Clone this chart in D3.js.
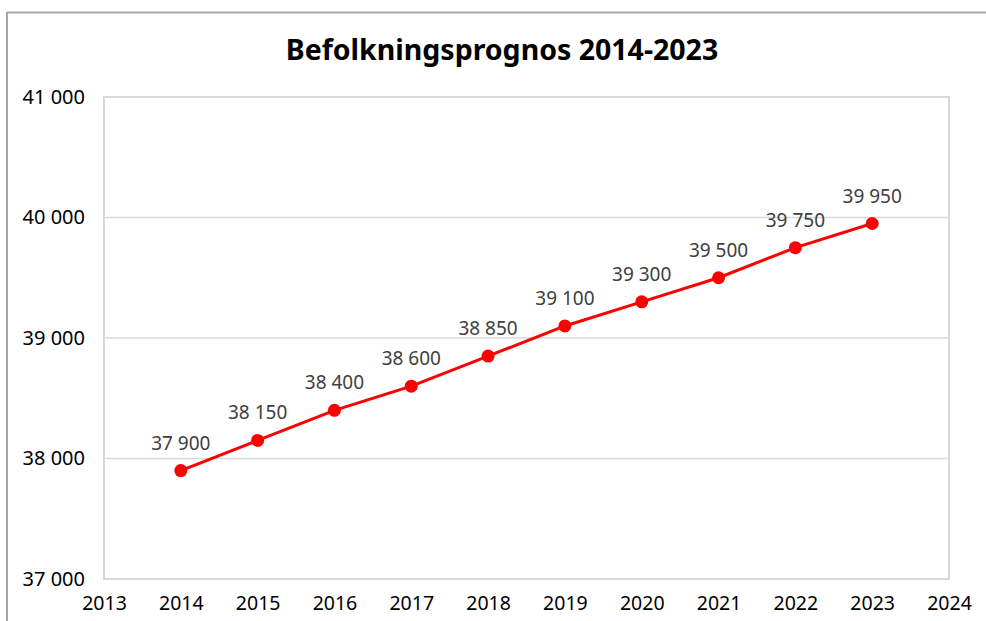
<!DOCTYPE html>
<html>
<head>
<meta charset="utf-8">
<script src="https://cdn.jsdelivr.net/npm/d3@7"></script>
<style>
	body { margin: 0; background: white; }
	svg { font-family: "Noto Sans", "Open Sans", sans-serif; }
</style>
</head>
<body>
<div id="chart"></div>
<script>
const years = [2014, 2015, 2016, 2017, 2018, 2019, 2020, 2021, 2022, 2023];
const population = [37900, 38150, 38400, 38600, 38850, 39100, 39300, 39500, 39750, 39950];
const yTicks = [37000, 38000, 39000, 40000, 41000];
const xTicks = [2013, 2014, 2015, 2016, 2017, 2018, 2019, 2020, 2021, 2022, 2023, 2024];
const title = "Befolkningsprognos 2014-2023";

const width = 986, height = 621;
const margin = { top: 97, right: 37, bottom: 42, left: 104 };

const fmt = v => d3.format(",")(v).replace(/,/g, " ");

let svg = d3.select("#chart")
	.append("svg")
	.attr("width", width)
	.attr("height", height);

// outer frame (top and left only)
svg.append("line")
	.attr("x1", 7).attr("x2", width)
	.attr("y1", 12.5).attr("y2", 12.5)
	.attr("stroke", "#a6a6a6")
	.attr("stroke-width", 2);
svg.append("line")
	.attr("x1", 7).attr("x2", 7)
	.attr("y1", 12).attr("y2", height)
	.attr("stroke", "#a6a6a6")
	.attr("stroke-width", 2);

let x = d3.scaleLinear()
	.domain([2013, 2024])
	.range([margin.left, width - margin.right]);

let y = d3.scaleLinear()
	.domain([37000, 41000])
	.range([height - margin.bottom, margin.top]);

// gridlines
svg.append("g")
	.selectAll("line")
	.data(yTicks)
	.join("line")
	.attr("x1", margin.left)
	.attr("x2", width - margin.right)
	.attr("y1", d => y(d))
	.attr("y2", d => y(d))
	.attr("stroke", "#d9d9d9")
	.attr("stroke-width", 1.5);

// plot area border
svg.append("rect")
	.attr("x", margin.left)
	.attr("y", margin.top)
	.attr("width", width - margin.right - margin.left)
	.attr("height", height - margin.bottom - margin.top)
	.attr("fill", "none")
	.attr("stroke", "#d9d9d9")
	.attr("stroke-width", 2);

// y axis labels
let yAxis = svg.append("g")
	.attr("transform", `translate(${margin.left - 19},0)`)
	.call(d3.axisLeft(y).tickValues(yTicks).tickFormat(fmt).tickSize(0).tickPadding(0));
yAxis.select(".domain").remove();
yAxis.selectAll("text")
	.attr("font-size", 20)
	.attr("font-family", "Noto Sans, sans-serif")
	.attr("fill", "#000");

// x axis labels
let xAxis = svg.append("g")
	.attr("transform", `translate(0,${height - margin.bottom + 17})`)
	.call(d3.axisBottom(x).tickValues(xTicks).tickFormat(d3.format("d")).tickSize(0).tickPadding(0));
xAxis.select(".domain").remove();
xAxis.selectAll("text")
	.attr("font-size", 19.5)
	.attr("font-family", "Noto Sans, sans-serif")
	.attr("fill", "#000");

// title
svg.append("text")
	.attr("x", 502)
	.attr("y", 60)
	.attr("text-anchor", "middle")
	.attr("font-size", 28.5)
	.attr("font-weight", "bold")
	.attr("fill", "#000")
	.text(title);

let data = years.map((d, i) => ({ year: d, value: population[i] }));

let line = d3.line()
	.x(d => x(d.year))
	.y(d => y(d.value));

svg.append("path")
	.datum(data)
	.attr("d", line)
	.attr("fill", "none")
	.attr("stroke", "#ff0000")
	.attr("stroke-width", 3);

svg.append("g")
	.selectAll("circle")
	.data(data)
	.join("circle")
	.attr("cx", d => x(d.year))
	.attr("cy", d => y(d.value))
	.attr("r", 6.5)
	.attr("fill", "#ff0000");

// data labels
svg.append("g")
	.selectAll("text")
	.data(data)
	.join("text")
	.attr("x", d => x(d.year))
	.attr("y", d => y(d.value) - 21)
	.attr("text-anchor", "middle")
	.attr("font-size", 19)
	.attr("fill", "#404040")
	.text(d => fmt(d.value));
</script>
</body>
</html>
